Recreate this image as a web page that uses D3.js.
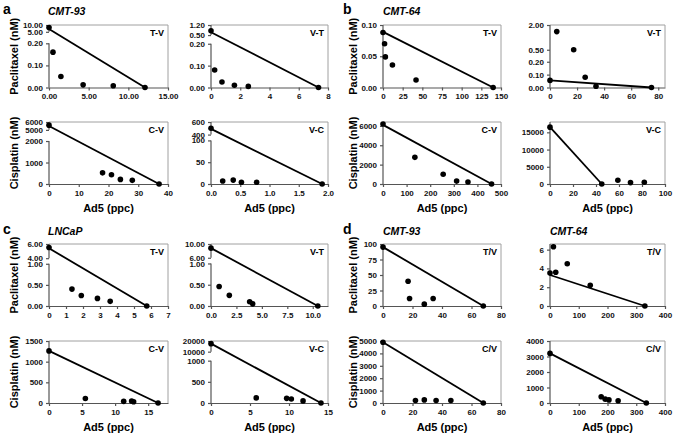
<!DOCTYPE html>
<html><head><meta charset="utf-8">
<script src="https://cdn.jsdelivr.net/npm/d3@7"></script>
<style>body{margin:0;background:#fff} text{font-family:"Liberation Sans",Arial,Helvetica,sans-serif}</style>
</head><body><svg id="c" width="683" height="439"></svg>
<script>
// ---- data: panel a (CMT-93) ----
const aTV_x = [0, 0.5, 1.5, 4.3, 8.1, 12.1];
const aTV_y = [8.2, 0.16, 0.05, 0.012, 0.008, 0];
const aTV_line = [0, 7.0, 12.1, 0];
const aTV_yTicks = [0, 0.1, 0.2, 5, 10];
const aTV_xTicks = [0, 5, 10, 15];

const aVT_x = [0, 0.25, 0.75, 1.6, 2.55, 7.35];
const aVT_y = [0.8, 0.08, 0.025, 0.01, 0.005, 0];
const aVT_line = [0, 0.7, 7.35, 0];
const aVT_yTicks = [0, 0.1, 0.2, 0.5, 1.2];
const aVT_xTicks = [0, 2, 4, 6, 8];

const aCV_x = [0, 18, 21, 24, 28, 37];
const aCV_y = [5600, 520, 430, 215, 170, 0];
const aCV_line = [0, 5500, 37, 0];
const aCV_yTicks = [0, 1000, 2000, 5000, 6000];
const aCV_xTicks = [0, 10, 20, 30, 40];

const aVC_x = [0, 0.2, 0.38, 0.52, 0.78, 1.9];
const aVC_y = [500, 7, 9, 4, 4, 0];
const aVC_line = [0, 490, 1.9, 0];
const aVC_yTicks = [0, 50, 100, 400, 600];
const aVC_xTicks = [0, 0.5, 1, 1.5, 2];

// ---- data: panel b (CMT-64) ----
const bTV_x = [0, 2, 3, 12, 42, 140];
const bTV_y = [0.088, 0.070, 0.049, 0.036, 0.012, 0];
const bTV_line = [0, 0.089, 140, 0];
const bTV_yTicks = [0, 0.05, 0.1];
const bTV_xTicks = [0, 25, 50, 75, 100, 125, 150];

const bVT_x = [0, 5, 17.5, 26, 34, 75];
const bVT_y = [0.055, 1.6, 0.5, 0.08, 0.01, 0];
const bVT_line = [0, 0.055, 75, 0];
const bVT_yTicks = [0, 0.1, 0.2, 0.5, 2];
const bVT_xTicks = [0, 20, 40, 60, 80];

const bCV_x = [0, 135, 255, 312, 360, 460];
const bCV_y = [6200, 2750, 1000, 300, 200, 0];
const bCV_line = [0, 6100, 460, 0];
const bCV_yTicks = [0, 2000, 4000, 6000];
const bCV_xTicks = [0, 100, 200, 300, 400, 500];

const bVC_x = [0, 45, 59, 70, 82];
const bVC_y = [16500, 0, 1100, 400, 500];
const bVC_line = [0, 16500, 45, 0];
const bVC_yTicks = [0, 5000, 10000, 15000];
const bVC_xTicks = [0, 20, 40, 60, 80, 100];

// ---- data: panel c (LNCaP) ----
const cTV_x = [0, 1.35, 1.9, 2.85, 3.6, 5.75];
const cTV_y = [5.5, 0.40, 0.25, 0.18, 0.11, 0];
const cTV_line = [0, 5.4, 5.75, 0];
const cTV_yTicks = [0, 0.5, 1, 4, 6];
const cTV_xTicks = [0, 1, 2, 3, 4, 5, 6, 7];

const cVT_x = [0, 0.8, 1.8, 3.8, 4.1, 10.5];
const cVT_y = [8.8, 0.46, 0.25, 0.10, 0.05, 0];
const cVT_line = [0, 8.8, 10.5, 0];
const cVT_yTicks = [0, 0.5, 1, 6, 10];
const cVT_xTicks = [0, 2.5, 5, 7.5, 10];

const cCV_x = [0, 5.5, 11.3, 12.5, 12.8, 16.5];
const cCV_y = [1260, 110, 40, 50, 30, 0];
const cCV_line = [0, 1260, 16.5, 0];
const cCV_yTicks = [0, 500, 1000, 1500];
const cCV_xTicks = [0, 5, 10, 15];

const cVC_x = [0, 5.8, 9.7, 10.3, 11.8, 14.1];
const cVC_y = [17500, 120, 110, 95, 50, 0];
const cVC_line = [0, 17500, 14.1, 0];
const cVC_yTicks = [0, 500, 1000, 10000, 20000];
const cVC_xTicks = [0, 5, 10, 15];

// ---- data: panel d (CMT-93 / CMT-64) ----
const d93TV_x = [0, 17, 18, 28, 34, 68];
const d93TV_y = [95, 40, 12, 3, 12, 0];
const d93TV_line = [0, 95, 68, 0];
const d93TV_yTicks = [0, 25, 50, 75, 100];
const d93TV_xTicks = [0, 20, 40, 60, 80];

const d64TV_x = [0, 12, 20, 60, 140, 330];
const d64TV_y = [3.5, 6.3, 3.6, 4.5, 2.2, 0];
const d64TV_line = [0, 3.3, 330, 0];
const d64TV_yTicks = [0, 2, 4, 6];
const d64TV_xTicks = [0, 100, 200, 300, 400];

const d93CV_x = [0, 22, 28, 36, 46, 68];
const d93CV_y = [4900, 200, 250, 200, 200, 0];
const d93CV_line = [0, 4900, 68, 0];
const d93CV_yTicks = [0, 1000, 2000, 3000, 4000, 5000];
const d93CV_xTicks = [0, 20, 40, 60, 80];

const d64CV_x = [0, 178, 192, 205, 237, 335];
const d64CV_y = [3200, 400, 250, 200, 150, 0];
const d64CV_line = [0, 3200, 335, 0];
const d64CV_yTicks = [0, 1000, 2000, 3000, 4000];
const d64CV_xTicks = [0, 100, 200, 300, 400];

// ---- layout ----
const cols = [{l:49,r:168},{l:211,r:328},{l:383,r:501},{l:550,r:665}];
const rows = [{t:25,b:87.5},{t:122,b:184},{t:244,b:306},{t:341,b:403}];

const panels = [
  {c:0,r:0,x:aTV_x,y:aTV_y,ln:aTV_line,yt:aTV_yTicks,xt:aTV_xTicks,xMax:15,yDom:[0,0.2,5,10],yFr:[0,0.707,0.891,1],yf:".2f",xf:".2f",tag:"T-V"},
  {c:1,r:0,x:aVT_x,y:aVT_y,ln:aVT_line,yt:aVT_yTicks,xt:aVT_xTicks,xMax:8,yDom:[0,0.2,0.5,1.2],yFr:[0,0.70,0.839,1],yf:".2f",xf:"d",tag:"V-T"},
  {c:0,r:1,x:aCV_x,y:aCV_y,ln:aCV_line,yt:aCV_yTicks,xt:aCV_xTicks,xMax:40,yDom:[0,2000,5000,6000],yFr:[0,0.693,0.873,1],yf:"d",xf:"d",tag:"C-V"},
  {c:1,r:1,x:aVC_x,y:aVC_y,ln:aVC_line,yt:aVC_yTicks,xt:aVC_xTicks,xMax:2,yDom:[0,100,400,600],yFr:[0,0.703,0.797,1],yf:"d",xf:".1f",tag:"V-C"},
  {c:2,r:0,x:bTV_x,y:bTV_y,ln:bTV_line,yt:bTV_yTicks,xt:bTV_xTicks,xMax:150,yDom:[0,0.1],yFr:[0,1],yf:".2f",xf:"d",tag:"T-V"},
  {c:3,r:0,x:bVT_x,y:bVT_y,ln:bVT_line,yt:bVT_yTicks,xt:bVT_xTicks,xMax:85,yDom:[0,0.2,0.5,2],yFr:[0,0.412,0.604,1],yf:".2f",xf:"d",tag:"V-T",noBreak:true},
  {c:2,r:1,x:bCV_x,y:bCV_y,ln:bCV_line,yt:bCV_yTicks,xt:bCV_xTicks,xMax:500,yDom:[0,6400],yFr:[0,1],yf:"d",xf:"d",tag:"C-V"},
  {c:3,r:1,x:bVC_x,y:bVC_y,ln:bVC_line,yt:bVC_yTicks,xt:bVC_xTicks,xMax:100,yDom:[0,18000],yFr:[0,1],yf:"d",xf:"d",tag:"V-C"},
  {c:0,r:2,x:cTV_x,y:cTV_y,ln:cTV_line,yt:cTV_yTicks,xt:cTV_xTicks,xMax:7,yDom:[0,1,4,6],yFr:[0,0.681,0.771,1],yf:".2f",xf:"d",tag:"T-V"},
  {c:1,r:2,x:cVT_x,y:cVT_y,ln:cVT_line,yt:cVT_yTicks,xt:cVT_xTicks,xMax:11.5,yDom:[0,1,6,10],yFr:[0,0.686,0.778,1],yf:".2f",xf:".1f",tag:"V-T"},
  {c:0,r:3,x:cCV_x,y:cCV_y,ln:cCV_line,yt:cCV_yTicks,xt:cCV_xTicks,xMax:18,yDom:[0,1500],yFr:[0,1],yf:"d",xf:"d",tag:"C-V"},
  {c:1,r:3,x:cVC_x,y:cVC_y,ln:cVC_line,yt:cVC_yTicks,xt:cVC_xTicks,xMax:15,yDom:[0,1000,10000,20000],yFr:[0,0.683,0.828,1],yf:"d",xf:"d",tag:"V-C"},
  {c:2,r:2,x:d93TV_x,y:d93TV_y,ln:d93TV_line,yt:d93TV_yTicks,xt:d93TV_xTicks,xMax:80,yDom:[0,100],yFr:[0,1],yf:"d",xf:"d",tag:"T/V"},
  {c:3,r:2,x:d64TV_x,y:d64TV_y,ln:d64TV_line,yt:d64TV_yTicks,xt:d64TV_xTicks,xMax:400,yDom:[0,6.6],yFr:[0,1],yf:"d",xf:"d",tag:"T/V"},
  {c:2,r:3,x:d93CV_x,y:d93CV_y,ln:d93CV_line,yt:d93CV_yTicks,xt:d93CV_xTicks,xMax:80,yDom:[0,5000],yFr:[0,1],yf:"d",xf:"d",tag:"C/V"},
  {c:3,r:3,x:d64CV_x,y:d64CV_y,ln:d64CV_line,yt:d64CV_yTicks,xt:d64CV_xTicks,xMax:400,yDom:[0,4000],yFr:[0,1],yf:"d",xf:"d",tag:"C/V"}
];

const svg = d3.select("#c");
const axisCol = "#555", boxCol = "#a0a0a0";

panels.forEach(p => {
  const L = cols[p.c].l, R = cols[p.c].r, T = rows[p.r].t, B = rows[p.r].b;
  const H = B - T;
  const x = d3.scaleLinear().domain([0, p.xMax]).range([L, R]);
  const y = d3.scaleLinear().domain(p.yDom).range(p.yFr.map(f => B - f * H));
  const g = svg.append("g");

  // top/right border
  g.append("path").attr("d", `M${L},${T}H${R}V${B}`).attr("fill","none").attr("stroke",boxCol).attr("stroke-width",1);

  // x axis
  const xa = g.append("g").attr("transform",`translate(0,${B})`)
    .call(d3.axisBottom(x).tickValues(p.xt).tickFormat(d3.format(p.xf)).tickSize(3).tickSizeOuter(0).tickPadding(3));
  xa.select(".domain").attr("stroke",axisCol).attr("stroke-width",1.2);
  xa.selectAll(".tick line").attr("stroke",axisCol).attr("stroke-width",1.2);
  xa.selectAll("text").attr("font-size",8).attr("font-weight","bold").attr("fill","#111");

  // y axis
  const ya = g.append("g").attr("transform",`translate(${L},0)`)
    .call(d3.axisLeft(y).tickValues(p.yt).tickFormat(d3.format(p.yf)).tickSize(3).tickSizeOuter(0).tickPadding(3));
  ya.select(".domain").remove();
  ya.selectAll(".tick line").attr("stroke",axisCol).attr("stroke-width",1.2);
  ya.selectAll("text").attr("font-size",8).attr("font-weight","bold").attr("fill","#111");
  if (p.yDom.length === 4 && !p.noBreak) {
    g.append("line").attr("x1",L).attr("x2",L).attr("y1",y(p.yDom[0])).attr("y2",y(p.yDom[1])).attr("stroke",axisCol).attr("stroke-width",1.2);
    g.append("line").attr("x1",L).attr("x2",L).attr("y1",y(p.yDom[2])).attr("y2",y(p.yDom[3])).attr("stroke",axisCol).attr("stroke-width",1.2);
  } else {
    g.append("line").attr("x1",L).attr("x2",L).attr("y1",B).attr("y2",T).attr("stroke",axisCol).attr("stroke-width",1.2);
  }

  // regression line
  g.append("line").attr("x1",x(p.ln[0])).attr("y1",y(p.ln[1])).attr("x2",x(p.ln[2])).attr("y2",y(p.ln[3]))
    .attr("stroke","#000").attr("stroke-width",1.8);

  // points
  g.selectAll("circle.pt").data(p.x.map((v,i)=>[v,p.y[i]])).enter().append("circle")
    .attr("cx",d=>x(d[0])).attr("cy",d=>y(d[1])).attr("r",2.8).attr("fill","#000");

  // tag
  g.append("text").attr("x",R-4).attr("y",T+11).attr("text-anchor","end")
    .attr("font-size",9).attr("font-weight","bold").text(p.tag);
});

// Y titles
const yTitles = [
  {x:14, r:0, c:0, t:"Paclitaxel (nM)"}, {x:14, r:1, c:0, t:"Cisplatin (nM)"},
  {x:353, r:0, c:2, t:"Paclitaxel (nM)"}, {x:353, r:1, c:2, t:"Cisplatin (nM)"},
  {x:14, r:2, c:0, t:"Paclitaxel (nM)"}, {x:14, r:3, c:0, t:"Cisplatin (nM)"},
  {x:353, r:2, c:2, t:"Paclitaxel (nM)"}, {x:353, r:3, c:2, t:"Cisplatin (nM)"}
];
yTitles.forEach(d => {
  const cy = (rows[d.r].t + rows[d.r].b) / 2;
  svg.append("text").attr("transform",`translate(${d.x},${cy}) rotate(-90)`)
    .attr("text-anchor","middle").attr("dominant-baseline","central")
    .attr("font-size",11).attr("font-weight","bold").text(d.t);
});

// X titles
[1,3].forEach(r => cols.forEach(c => {
  svg.append("text").attr("x",(c.l+c.r)/2).attr("y",rows[r].b+28).attr("text-anchor","middle")
    .attr("font-size",11).attr("font-weight","bold").text("Ad5 (ppc)");
}));

// Panel letters and cell lines
const letters = [{t:"a",x:3,y:14},{t:"b",x:343,y:14},{t:"c",x:3,y:234},{t:"d",x:343,y:234}];
letters.forEach(d => svg.append("text").attr("x",d.x).attr("y",d.y).attr("font-size",14).attr("font-weight","bold").text(d.t));
const cells = [{t:"CMT-93",x:48,y:15},{t:"CMT-64",x:383,y:15},{t:"LNCaP",x:48,y:235},{t:"CMT-93",x:383,y:235},{t:"CMT-64",x:550,y:235}];
cells.forEach(d => svg.append("text").attr("x",d.x).attr("y",d.y).attr("font-size",10.5).attr("font-weight","bold").attr("font-style","italic").text(d.t));
</script></body></html>
